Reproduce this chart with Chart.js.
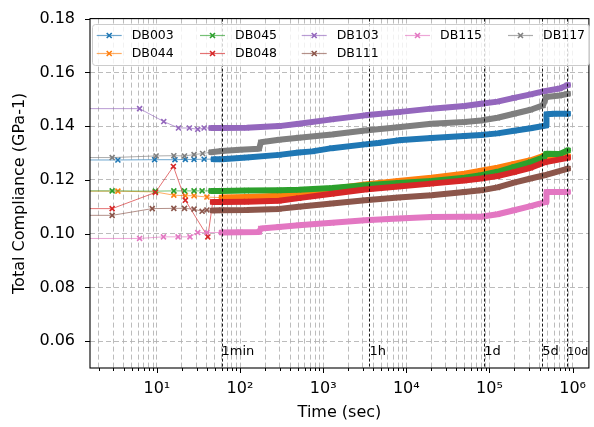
<!DOCTYPE html>
<html><head><meta charset="utf-8">
<script src="https://cdn.jsdelivr.net/npm/chart.js@4.4.0/dist/chart.umd.min.js"></script>
<style>html,body{margin:0;padding:0;background:#fff}canvas{display:block}</style>
</head><body>
<canvas id="c" width="594" height="427"></canvas>
<script>
// ---------------- DATA ----------------
const seriesNames = ['DB003','DB044','DB045','DB048','DB103','DB111','DB115','DB117'];
const seriesColors = ['#1f77b4','#ff7f0e','#2ca02c','#d62728','#9467bd','#8c564b','#e377c2','#7f7f7f'];

const DB003_t = [0.01, 3.4, 9.4, 16.5, 22, 28, 37, 48, 60, 120, 295, 509, 740, 1274, 3190, 4600, 8000, 20000, 50000, 79000, 125000, 198000, 313000, 480000, 485000, 600000, 880000];
const DB003_v = [0.1274, 0.1274, 0.1275, 0.1275, 0.1276, 0.1276, 0.1277, 0.1277, 0.1277, 0.1283, 0.1293, 0.1302, 0.1306, 0.1318, 0.1332, 0.1337, 0.1347, 0.1356, 0.1363, 0.1367, 0.1373, 0.1383, 0.1392, 0.1402, 0.1444, 0.1446, 0.1446];

const DB044_t = [0.01, 3.4, 9.6, 16, 22, 28, 40, 60, 120, 295, 509, 1274, 3190, 8000, 20000, 50000, 79000, 125000, 198000, 313000, 457000, 600000, 880000];
const DB044_v = [0.1158, 0.1158, 0.1155, 0.1143, 0.1141, 0.1141, 0.1136, 0.1134, 0.1136, 0.1141, 0.1150, 0.1166, 0.1183, 0.1196, 0.1208, 0.1223, 0.1234, 0.1245, 0.1259, 0.1273, 0.1290, 0.1286, 0.1288];

const DB045_t = [0.01, 2.9, 9.6, 16, 21.5, 28, 35, 45, 60, 120, 295, 509, 1274, 3190, 8000, 20000, 50000, 79000, 125000, 198000, 313000, 457000, 480000, 700000, 880000];
const DB045_v = [0.1159, 0.1159, 0.1158, 0.1159, 0.1159, 0.1159, 0.1159, 0.1159, 0.1159, 0.1160, 0.1161, 0.1163, 0.1170, 0.1180, 0.1188, 0.1196, 0.1208, 0.1217, 0.1230, 0.1248, 0.1266, 0.1285, 0.1297, 0.1296, 0.1310];

const DB048_t = [0.01, 2.9, 9.6, 15.8, 22, 41, 47, 60, 120, 295, 509, 1274, 3190, 8000, 20000, 50000, 79000, 125000, 198000, 313000, 457000, 880000];
const DB048_v = [0.1093, 0.1093, 0.1153, 0.1250, 0.1124, 0.0988, 0.1118, 0.1118, 0.1119, 0.1122, 0.1132, 0.1148, 0.1164, 0.1175, 0.1186, 0.1198, 0.1205, 0.1214, 0.1229, 0.1245, 0.1265, 0.1282];

const DB103_t = [0.01, 6.2, 12.1, 18.2, 24.6, 31, 37, 45, 60, 120, 295, 509, 1274, 3190, 8000, 20000, 50000, 79000, 125000, 198000, 313000, 457000, 700000, 880000];
const DB103_v = [0.1465, 0.1465, 0.1417, 0.1393, 0.1393, 0.1388, 0.1393, 0.1393, 0.1393, 0.1394, 0.1400, 0.1409, 0.1425, 0.1440, 0.1452, 0.1465, 0.1475, 0.1483, 0.1491, 0.1505, 0.1518, 0.1530, 0.1540, 0.1553];

const DB111_t = [0.01, 2.9, 8.8, 16, 21.5, 28, 35, 40, 47, 60, 120, 295, 509, 1274, 3190, 8000, 20000, 50000, 79000, 125000, 198000, 313000, 457000, 880000];
const DB111_v = [0.1068, 0.1068, 0.1093, 0.1094, 0.1094, 0.1091, 0.1083, 0.1088, 0.1086, 0.1087, 0.1088, 0.1092, 0.1100, 0.1112, 0.1124, 0.1134, 0.1143, 0.1155, 0.1161, 0.1172, 0.1190, 0.1205, 0.1217, 0.1242];

const DB115_t = [0.01, 6.2, 12, 18, 25, 31, 40, 60, 100, 170, 178, 295, 509, 1274, 3190, 8000, 20000, 50000, 79000, 125000, 198000, 313000, 480000, 485000, 880000];
const DB115_v = [0.0982, 0.0982, 0.0988, 0.0988, 0.0988, 0.1004, 0.1004, 0.1004, 0.1005, 0.1006, 0.1019, 0.1025, 0.1031, 0.1040, 0.1050, 0.1056, 0.1062, 0.1063, 0.1063, 0.1072, 0.1087, 0.1102, 0.1118, 0.1155, 0.1155];

const DB117_t = [0.01, 2.9, 9.8, 16, 21.5, 28, 35.5, 45, 60, 100, 170, 178, 295, 509, 1274, 3190, 8000, 20000, 50000, 79000, 125000, 198000, 313000, 440000, 480000, 700000, 880000];
const DB117_v = [0.1283, 0.1283, 0.1289, 0.1290, 0.1289, 0.1294, 0.1298, 0.1303, 0.1307, 0.1312, 0.1316, 0.1340, 0.1349, 0.1357, 0.1369, 0.1384, 0.1396, 0.1409, 0.1415, 0.1421, 0.1431, 0.1446, 0.1461, 0.1477, 0.1508, 0.1514, 0.1520];

const seriesT = [DB003_t, DB044_t, DB045_t, DB048_t, DB103_t, DB111_t, DB115_t, DB117_t];
const seriesV = [DB003_v, DB044_v, DB045_v, DB048_v, DB103_v, DB111_v, DB115_v, DB117_v];

const eventTimes = [60, 3600, 86400, 432000, 864000];
const eventLabels = ['1min', '1h', '1d', '5d', '10d'];

const xMajorTicks = [10, 100, 1000, 10000, 100000, 1000000];
const xMajorLabels = ['10\u00B9', '10\u00B2', '10\u00B3', '10\u2074', '10\u2075', '10\u2076'];
const xDecades = [1, 10, 100, 1000, 10000, 100000, 1000000];
const xMinorMult = [2, 3, 4, 5, 6, 7, 8, 9];
const yTicks = [0.06, 0.08, 0.10, 0.12, 0.14, 0.16, 0.18];

// legend layout: [column, row] per series (column-major, 5 columns)
const legendSlots = [[0,0],[0,1],[1,0],[1,1],[2,0],[2,1],[3,0],[4,0]];

// ---------------- STYLE ----------------
const X_MIN = 1.57, X_MAX = 1.57e6, Y_MIN = 0.05, Y_MAX = 0.18;
const FONT = 'DejaVu Sans';
const gridColor = 'rgba(176,176,176,0.85)';
Chart.defaults.font.family = FONT;
Chart.defaults.color = '#000';

function fade(hex, a) {
  const r = parseInt(hex.slice(1,3),16), g = parseInt(hex.slice(3,5),16), b = parseInt(hex.slice(5,7),16);
  return `rgba(${r},${g},${b},${a})`;
}
const BAND_T = 45;

const xTickValues = [];
xDecades.forEach(d => {
  [1].concat(xMinorMult).forEach(m => {
    const v = d * m;
    if (v >= X_MIN && v <= X_MAX) xTickValues.push(v);
  });
});

const datasets = seriesNames.map((name, i) => ({
  label: name,
  data: seriesT[i].map((t, j) => ({x: t, y: seriesV[i][j]})),
  borderColor: seriesColors[i],
  backgroundColor: seriesColors[i],
  borderWidth: 1,
  borderJoinStyle: 'round',
  borderCapStyle: 'round',
  pointStyle: 'crossRot',
  pointRadius: ctx => ctx.dataIndex === 0 ? 0 : 3.5,
  pointHoverRadius: 0,
  pointBorderWidth: 1.6,
  pointBorderColor: seriesColors[i],
  pointBackgroundColor: seriesColors[i],
  fill: false,
  tension: 0,
  order: seriesNames.length - i,
  segment: {
    borderWidth: ctx => ctx.p0.parsed.x >= BAND_T ? 6 : 1,
    borderColor: ctx => ctx.p0.parsed.x >= BAND_T ? seriesColors[i] : fade(seriesColors[i], 0.65)
  }
}));

const overlay = {
  id: 'overlay',
  afterDatasetsDraw(chart) {
    const ctx = chart.ctx, a = chart.chartArea;
    const xs = chart.scales.x, ys = chart.scales.y;
    // event lines
    ctx.save();
    ctx.beginPath(); ctx.rect(a.left, a.top, a.right - a.left, a.bottom - a.top); ctx.clip();
    ctx.strokeStyle = '#000'; ctx.lineWidth = 0.9; ctx.setLineDash([3, 2]);
    eventTimes.forEach(t => {
      const px = Math.round(xs.getPixelForValue(t)) + 0.5;
      ctx.beginPath(); ctx.moveTo(px, a.top); ctx.lineTo(px, a.bottom); ctx.stroke();
    });
    ctx.restore();
    ctx.save();
    ctx.fillStyle = '#000'; ctx.textAlign = 'left'; ctx.textBaseline = 'alphabetic';
    eventTimes.forEach((t, k) => {
      ctx.font = (eventLabels[k] === '10d' ? '11px ' : '13px ') + FONT;
      ctx.fillText(eventLabels[k], xs.getPixelForValue(t), ys.getPixelForValue(0.055));
    });
    ctx.restore();
    // frame
    ctx.save();
    ctx.strokeStyle = '#000'; ctx.lineWidth = 1.1; ctx.setLineDash([]);
    ctx.strokeRect(a.left, a.top, a.right - a.left, a.bottom - a.top);
    // ticks
    ctx.lineWidth = 1;
    xTickValues.forEach(v => {
      const px = Math.round(xs.getPixelForValue(v)) + 0.5;
      const len = xMajorTicks.includes(v) ? 5 : 3;
      ctx.beginPath(); ctx.moveTo(px, a.bottom); ctx.lineTo(px, a.bottom + len); ctx.stroke();
    });
    yTicks.forEach(v => {
      const py = Math.round(ys.getPixelForValue(v)) + 0.5;
      ctx.beginPath(); ctx.moveTo(a.left - 5, py); ctx.lineTo(a.left, py); ctx.stroke();
    });
    ctx.restore();
    // legend
    ctx.save();
    const bx = 92.5, by = 24.5, bw = 497, bh = 41, r = 3;
    ctx.beginPath();
    ctx.moveTo(bx + r, by); ctx.lineTo(bx + bw - r, by); ctx.quadraticCurveTo(bx + bw, by, bx + bw, by + r);
    ctx.lineTo(bx + bw, by + bh - r); ctx.quadraticCurveTo(bx + bw, by + bh, bx + bw - r, by + bh);
    ctx.lineTo(bx + r, by + bh); ctx.quadraticCurveTo(bx, by + bh, bx, by + bh - r);
    ctx.lineTo(bx, by + r); ctx.quadraticCurveTo(bx, by, bx + r, by); ctx.closePath();
    ctx.fillStyle = 'rgba(255,255,255,0.8)'; ctx.fill();
    ctx.strokeStyle = '#cccccc'; ctx.lineWidth = 1; ctx.stroke();
    const colX = [96.7, 200, 301.7, 405, 508];
    const rowY = [35.5, 53.5];
    ctx.font = '12.5px ' + FONT; ctx.textBaseline = 'middle'; ctx.textAlign = 'left';
    seriesNames.forEach((name, i) => {
      const x0 = colX[legendSlots[i][0]], y0 = rowY[legendSlots[i][1]];
      ctx.strokeStyle = fade(seriesColors[i], 0.65); ctx.lineWidth = 1.2;
      ctx.beginPath(); ctx.moveTo(x0, y0); ctx.lineTo(x0 + 25, y0); ctx.stroke();
      ctx.strokeStyle = seriesColors[i]; ctx.lineWidth = 1.6;
      const cx = x0 + 12.5, d = 2.5;
      ctx.beginPath(); ctx.moveTo(cx - d, y0 - d); ctx.lineTo(cx + d, y0 + d);
      ctx.moveTo(cx - d, y0 + d); ctx.lineTo(cx + d, y0 - d); ctx.stroke();
      ctx.fillStyle = '#000';
      ctx.fillText(name, x0 + 35, y0 + 0.5);
    });
    ctx.restore();
  }
};

new Chart(document.getElementById('c'), {
  type: 'line',
  data: {datasets},
  plugins: [overlay],
  options: {
    responsive: false,
    animation: false,
    devicePixelRatio: 1,
    layout: {padding: {top: 18, right: 2.3, left: 0, bottom: 0}},
    plugins: {legend: {display: false}, tooltip: {enabled: false}},
    scales: {
      x: {
        type: 'logarithmic', min: X_MIN, max: X_MAX,
        afterBuildTicks: s => { s.ticks = xTickValues.map(v => ({value: v})); },
        afterFit: s => { s.height = 59; },
        ticks: {
          autoSkip: false, maxRotation: 0, minRotation: 0, padding: 5,
          font: {size: 16},
          callback: v => { const k = xMajorTicks.indexOf(v); return k >= 0 ? xMajorLabels[k] : ''; }
        },
        grid: {color: gridColor, lineWidth: 1, drawTicks: true, tickLength: 6, tickColor: 'rgba(0,0,0,0)'},
        border: {display: false, dash: [5, 3]},
        title: {display: true, text: 'Time (sec)', font: {size: 16}, padding: {top: 0, bottom: 5}}
      },
      y: {
        type: 'linear', min: Y_MIN, max: Y_MAX,
        afterBuildTicks: s => { s.ticks = yTicks.map(v => ({value: v})); },
        afterFit: s => { s.width = 90; },
        ticks: {padding: 9, font: {size: 16}, callback: v => v.toFixed(2)},
        grid: {color: gridColor, lineWidth: 1, drawTicks: true, tickLength: 6, tickColor: 'rgba(0,0,0,0)'},
        border: {display: false, dash: [5, 3]},
        title: {display: true, text: 'Total Compliance (GPa-1)', font: {size: 16}, padding: {top: 10.4, bottom: 0}}
      }
    }
  }
});
</script></body></html>
